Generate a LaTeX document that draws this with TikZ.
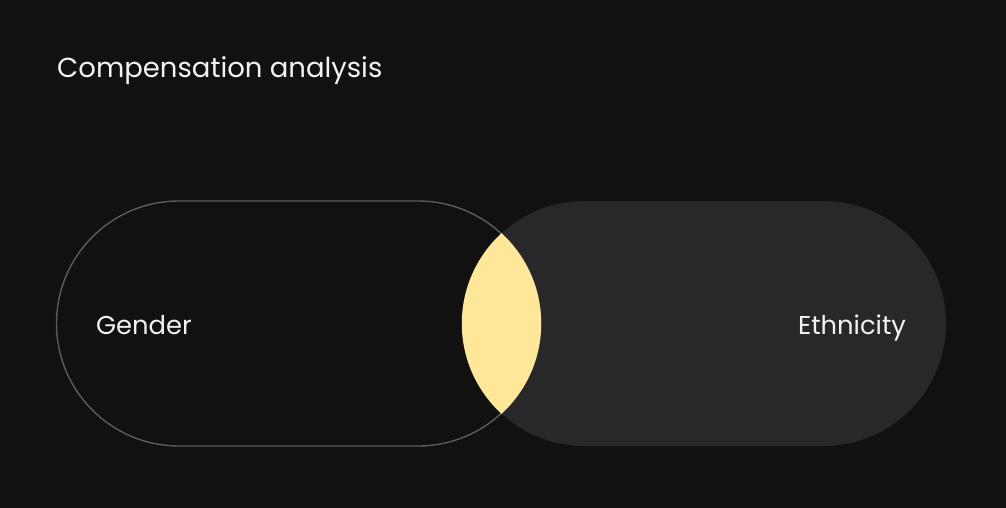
\documentclass[tikz,border=0pt]{standalone}
\usepackage{fontspec}
\setmainfont{Poppins}
\usetikzlibrary{positioning, shapes.misc}

\definecolor{bgdark}{HTML}{111111}
\definecolor{panel}{HTML}{28282A}
\definecolor{edge}{HTML}{5C5C5C}
\definecolor{overlap}{HTML}{FFE799}
\definecolor{ink}{HTML}{F2F2F2}

\begin{document}
\begin{tikzpicture}[x=1pt, y=-1pt,
  setbox/.style = {rounded rectangle, minimum width=484pt, minimum height=245pt, inner sep=0pt},
  heading/.style = {text=ink, font=\fontsize{27.5}{32}\selectfont, inner sep=0pt},
  setname/.style = {text=ink, font=\fontsize{25.8}{30}\selectfont, inner sep=0pt}]
\fill[bgdark] (0,0) rectangle (1006,508);
\useasboundingbox (0,0) rectangle (1006,508);

\node[heading, anchor=base west] (title) at (57,78) {Compensation analysis};

% the two sets
\node[setbox, fill=panel] (ethnicity) at (704,323.5) {};
\node[setbox, draw=edge, line width=1.4pt] (gender) at (298.5,323.5) {};

% overlap
\begin{scope}
\clip ([xshift=-122.5pt]gender.east) circle[radius=122.5pt];
\fill[overlap] ([xshift=122.5pt]ethnicity.west) circle[radius=122.5pt];
\end{scope}

\node[setname] (genderlbl) [right=40pt of gender.west, anchor=base west, yshift=-10.5pt] {Gender};
\node[setname] (ethnicitylbl) [left=40pt of ethnicity.east, anchor=base east, yshift=-10.5pt] {Ethnicity};

\end{tikzpicture}
\end{document}
